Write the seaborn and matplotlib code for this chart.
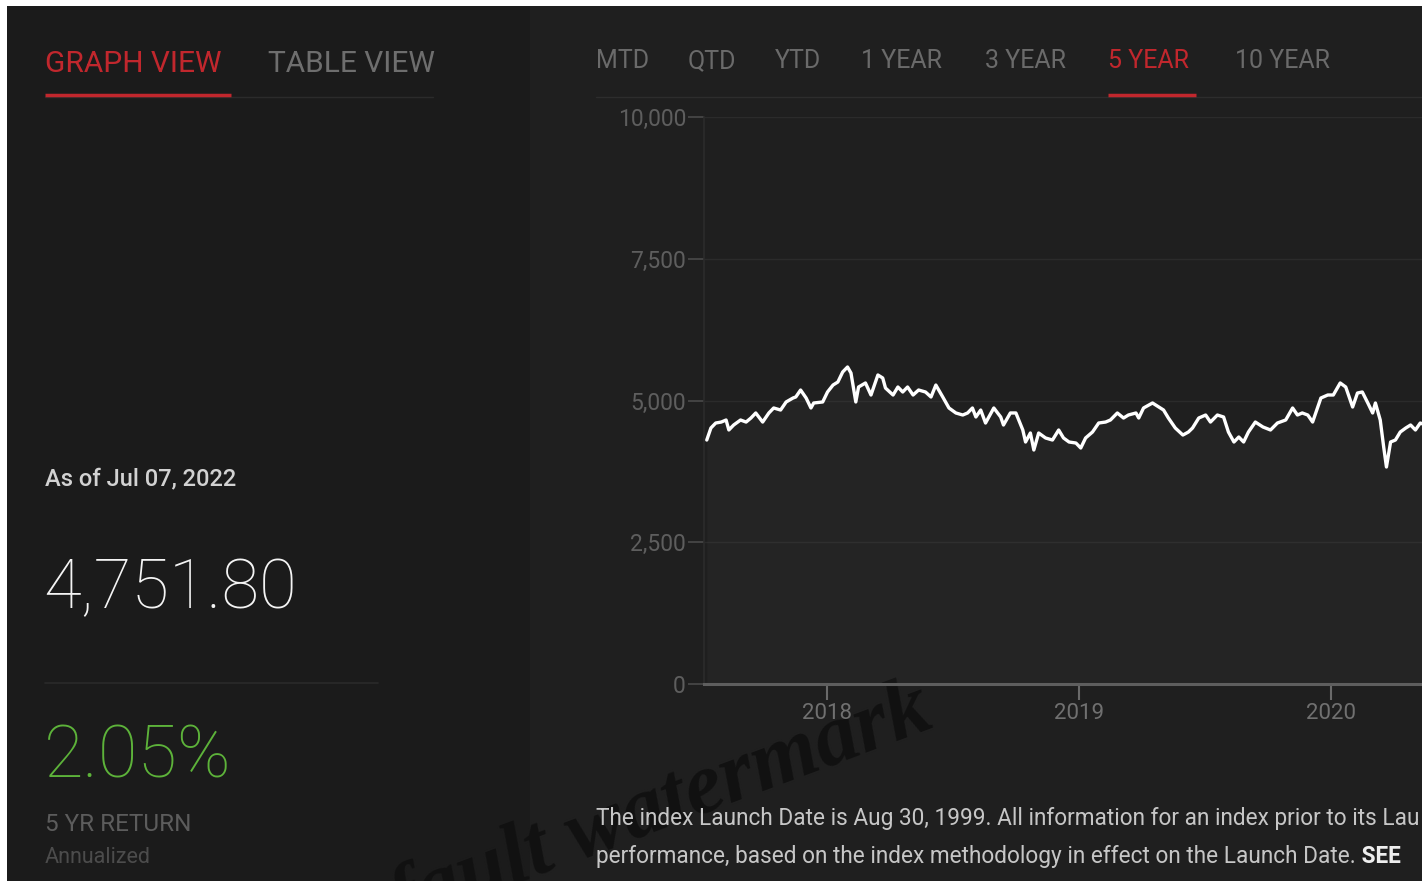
import matplotlib
matplotlib.use("Agg")
import matplotlib.pyplot as plt
from matplotlib.patches import Rectangle
from matplotlib.lines import Line2D
import pandas as pd
import seaborn as sns

# ---------------- data ----------------
dates = [
    "2017-07-11", "2017-07-17", "2017-07-24", "2017-08-01", "2017-08-08", "2017-08-12",
    "2017-08-19", "2017-08-29", "2017-09-06", "2017-09-13", "2017-09-20", "2017-09-30",
    "2017-10-09", "2017-10-16", "2017-10-26", "2017-11-03", "2017-11-13", "2017-11-17",
    "2017-11-24", "2017-12-02", "2017-12-09", "2017-12-13", "2017-12-26", "2018-01-02",
    "2018-01-10", "2018-01-17", "2018-01-24", "2018-01-31", "2018-02-05", "2018-02-12",
    "2018-02-16", "2018-02-26", "2018-03-06", "2018-03-16", "2018-03-23", "2018-03-27",
    "2018-04-07", "2018-04-14", "2018-04-21", "2018-04-28", "2018-05-06", "2018-05-14",
    "2018-05-24", "2018-06-01", "2018-06-08", "2018-06-18", "2018-06-27", "2018-07-07",
    "2018-07-17", "2018-07-24", "2018-07-31", "2018-08-05", "2018-08-12", "2018-08-19",
    "2018-08-31", "2018-09-10", "2018-09-14", "2018-09-24", "2018-10-02", "2018-10-12",
    "2018-10-16", "2018-10-23", "2018-10-28", "2018-11-04", "2018-11-14", "2018-11-24",
    "2018-12-03", "2018-12-10", "2018-12-18", "2018-12-28", "2019-01-04", "2019-01-11",
    "2019-01-21", "2019-01-30", "2019-02-09", "2019-02-16", "2019-02-26", "2019-03-07",
    "2019-03-14", "2019-03-25", "2019-03-29", "2019-04-05", "2019-04-18", "2019-04-27",
    "2019-05-04", "2019-05-11", "2019-05-21", "2019-06-01", "2019-06-09", "2019-06-15",
    "2019-06-24", "2019-07-04", "2019-07-11", "2019-07-21", "2019-07-30", "2019-08-06",
    "2019-08-14", "2019-08-21", "2019-08-28", "2019-09-04", "2019-09-14", "2019-09-25",
    "2019-10-06", "2019-10-16", "2019-10-28", "2019-11-07", "2019-11-14", "2019-11-21",
    "2019-11-29", "2019-12-06", "2019-12-13", "2019-12-18", "2019-12-28", "2020-01-05",
    "2020-01-15", "2020-01-23", "2020-02-02", "2020-02-09", "2020-02-16", "2020-02-24",
    "2020-03-02", "2020-03-06", "2020-03-13", "2020-03-18", "2020-03-22", "2020-03-28",
    "2020-04-04", "2020-04-11", "2020-04-19", "2020-04-26", "2020-05-03", "2020-05-10",
    "2020-05-17",
]
index_values = [
    4303, 4515, 4603, 4620, 4656, 4480,
    4568, 4656, 4620, 4691, 4780, 4620,
    4780, 4868, 4832, 4974, 5044, 5062,
    5185, 5044, 4868, 4956, 4974, 5150,
    5273, 5326, 5503, 5591, 5485, 4974,
    5238, 5309, 5097, 5450, 5397, 5220,
    5097, 5238, 5150, 5238, 5097, 5185,
    5150, 5062, 5273, 5062, 4868, 4780,
    4744, 4780, 4868, 4709, 4832, 4603,
    4868, 4709, 4568, 4780, 4780, 4480,
    4268, 4427, 4127, 4427, 4339, 4303,
    4480, 4339, 4268, 4250, 4162, 4339,
    4444, 4603, 4620, 4656, 4780, 4691,
    4744, 4780, 4691, 4868, 4956, 4885,
    4832, 4691, 4515, 4391, 4444, 4515,
    4691, 4744, 4620, 4744, 4709, 4444,
    4268, 4356, 4268, 4444, 4620, 4533,
    4480, 4603, 4656, 4868, 4744, 4780,
    4744, 4620, 4868, 5044, 5097, 5097,
    5309, 5238, 4885, 5132, 5150, 4956,
    4780, 4956, 4656, 4180, 3827, 4268,
    4303, 4444, 4515, 4568, 4480, 4603,
    4570,
]
y_ticks = [0, 2500, 5000, 7500, 10000]
x_tick_years = [2018, 2019, 2020]
period_tabs = ["MTD", "QTD", "YTD", "1 YEAR", "3 YEAR", "5 YEAR", "10 YEAR"]
active_period = "5 YEAR"
view_tabs = ["GRAPH VIEW", "TABLE VIEW"]
as_of_text = "As of Jul 07, 2022"
last_value = "4,751.80"
return_value = "2.05%"
return_label = "5 YR RETURN"
return_sub = "Annualized"
footer_line1 = "The index Launch Date is Aug 30, 1999. All information for an index prior to its Lau"
footer_line2 = "performance, based on the index methodology in effect on the Launch Date."
footer_bold = " SEE"
watermark = "default watermark"
x_start, x_end = "2017-07-07", "2022-07-07"

df = pd.DataFrame({"date": pd.to_datetime(dates), "value": index_values})

# ---------------- style ----------------
W, H = 1422, 881
RED = "#c1272d"
GREEN = "#5db33a"
sns.set_theme(style="dark")
plt.rcParams["font.family"] = ["Roboto", "DejaVu Sans"]

fig = plt.figure(figsize=(W / 100, H / 100), dpi=100, facecolor="white")


def fx(px):
    return px / W


def fy(py):
    return 1 - py / H


# panels
fig.patches.append(Rectangle((fx(7), 0), fx(530 - 7), fy(6), transform=fig.transFigure,
                             facecolor="#1b1b1b", edgecolor="none", zorder=-5))
fig.patches.append(Rectangle((fx(530), 0), fx(W - 530), fy(6), transform=fig.transFigure,
                             facecolor="#1f1f1f", edgecolor="none", zorder=-5))

# watermark (beneath everything else)
fig.text(fx(936), fy(726), watermark, color="#111111", fontsize=62,
         family=["Liberation Serif", "DejaVu Serif"], fontstyle="italic", fontweight="bold",
         rotation=20.5, rotation_mode="anchor", ha="right", va="baseline", zorder=-1)

# ---------------- chart axes ----------------
ax_left, ax_top, ax_bottom = 704, 117, 684
ax_right = 704 + 1260
ax = fig.add_axes([fx(ax_left), fy(ax_bottom), fx(ax_right - ax_left), (ax_bottom - ax_top) / H])
ax.set_facecolor("none")
ax.set_zorder(1)

ax.fill_between(df["date"], 0, df["value"], color="white", alpha=0.022, linewidth=0)
sns.lineplot(data=df, x="date", y="value", ax=ax, color="white", linewidth=2.4)

ax.set_xlim(pd.Timestamp(x_start), pd.Timestamp(x_end))
ax.set_ylim(0, 10000)
ax.set_yticks(y_ticks)
ax.set_yticklabels([f"{v:,}" for v in y_ticks])
ax.set_xticks([pd.Timestamp(f"{y}-01-01") for y in x_tick_years])
ax.set_xticklabels([str(y) for y in x_tick_years])
ax.set_xlabel("")
ax.set_ylabel("")
ax.grid(axis="y", color="#2b2b2b", linewidth=1.0)
ax.grid(axis="x", visible=False)
ax.tick_params(axis="y", length=11.5, width=1.2, color="#4a4a4a", labelcolor="#5e5e5e",
               labelsize=16.5, pad=1.5, left=True)
ax.tick_params(axis="x", length=11.5, width=1.5, color="#6a6a6a", labelcolor="#707070",
               labelsize=16, pad=2.5, bottom=True)
for s in ["top", "right"]:
    ax.spines[s].set_visible(False)
ax.spines["left"].set_color("#2c2c2c")
ax.spines["left"].set_linewidth(1.2)
ax.spines["bottom"].set_color("#5e5e5e")
ax.spines["bottom"].set_linewidth(2.2)

# ---------------- tabs ----------------
view_x = [45, 268]
for label, x in zip(view_tabs, view_x):
    fig.text(fx(x), fy(71.5), label, color=RED if label == "GRAPH VIEW" else "#6e6e6e",
             fontsize=21.5, ha="left", va="baseline")
fig.add_artist(Line2D([fx(45), fx(433)], [fy(96.5), fy(96.5)], color="#2b2b2b", lw=1.0,
                      transform=fig.transFigure))
fig.add_artist(Line2D([fx(45), fx(231)], [fy(94.5), fy(94.5)], color=RED, lw=2.5,
                      transform=fig.transFigure, solid_capstyle="butt"))

period_x = [596, 688, 775, 861, 985, 1108, 1235]
for label, x in zip(period_tabs, period_x):
    fig.text(fx(x), fy(68), label, color=RED if label == active_period else "#6a6a6a",
             fontsize=18, ha="left", va="baseline")
fig.add_artist(Line2D([fx(596), fx(W)], [fy(96.5), fy(96.5)], color="#2d2d2d", lw=1.0,
                      transform=fig.transFigure))
fig.add_artist(Line2D([fx(1108), fx(1196)], [fy(94.5), fy(94.5)], color=RED, lw=2.5,
                      transform=fig.transFigure, solid_capstyle="butt"))

# ---------------- left summary ----------------
fig.text(fx(45), fy(485), as_of_text, color="#d2d2d2", fontsize=17, fontweight="medium",
         ha="left", va="baseline")
fig.text(fx(43), fy(608), last_value, color="#f4f4f4", fontsize=49.5, fontweight="light",
         ha="left", va="baseline")
fig.add_artist(Line2D([fx(45), fx(378)], [fy(683), fy(683)], color="#2a2a2a", lw=1.2,
                      transform=fig.transFigure))
fig.text(fx(44), fy(778), return_value, color=GREEN, fontsize=52, fontweight="light",
         ha="left", va="baseline")
fig.text(fx(45), fy(831), return_label, color="#5c5c5c", fontsize=17.5, ha="left", va="baseline")
fig.text(fx(45), fy(863), return_sub, color="#4c4c4c", fontsize=15.5, ha="left", va="baseline")

# ---------------- footer ----------------
fs_footer = 16.3
fig.text(fx(596), fy(825), footer_line1, color="#c6c6c6", fontsize=fs_footer, ha="left",
         va="baseline", zorder=5)
t2 = fig.text(fx(596), fy(868), footer_line2, color="#c6c6c6", fontsize=fs_footer, ha="left",
              va="bottom", zorder=5)
ax.annotate(footer_bold, xy=(1, 0), xycoords=t2, color="#eeeeee", fontsize=fs_footer,
            fontweight="bold", ha="left", va="bottom", annotation_clip=False)

fig.savefig("out.png", dpi=100, facecolor="white")
